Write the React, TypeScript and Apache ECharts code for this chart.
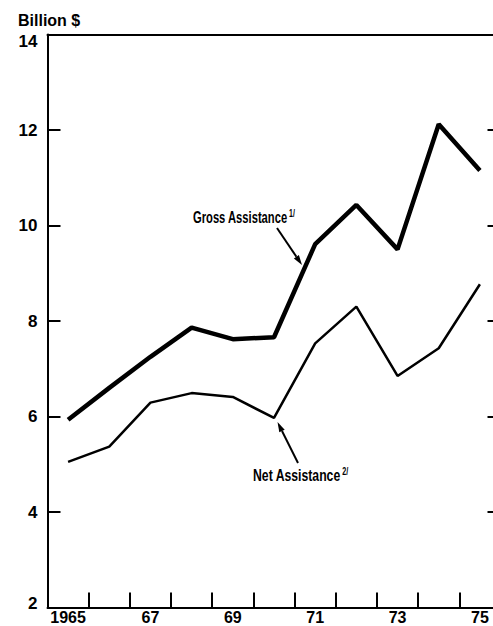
import React, { useEffect, useRef } from "react";
import * as echarts from "echarts";

const years = ["1965", "1966", "1967", "1968", "1969", "1970", "1971", "1972", "1973", "1974", "1975"];
const grossAssistance = [5.93, 6.6, 7.25, 7.86, 7.62, 7.66, 9.61, 10.43, 9.5, 12.12, 11.15];
const netAssistance = [5.05, 5.37, 6.29, 6.49, 6.41, 5.97, 7.53, 8.3, 6.85, 7.43, 8.77];
const yMin = 2;
const yMax = 14;
const yStep = 2;
const unitLabel = "Billion $";
const grossLabel = "Gross Assistance";
const netLabel = "Net Assistance";

const FONT = '"Liberation Sans", Arial, sans-serif';

export default function App() {
  const ref = useRef<HTMLDivElement>(null);
  useEffect(() => {
    if (!ref.current) return;
    const chart = echarts.init(ref.current, undefined, { renderer: "svg" });
    const axisLine = { show: true, lineStyle: { color: "#000", width: 2 } };
    chart.setOption({
      animation: false,
      backgroundColor: "#fff",
      grid: { left: 47.5, top: 34.5, width: 453, height: 573, outerBoundsMode: "none", containLabel: false },
      xAxis: [
        {
          type: "category",
          data: years,
          boundaryGap: true,
          position: "bottom",
          axisLine,
          axisTick: { show: true, inside: true, length: 15, interval: 0, lineStyle: { color: "#000", width: 2 } },
          axisLabel: {
            interval: 1,
            margin: 2,
            color: "#000",
            fontFamily: FONT,
            fontWeight: "bold",
            fontSize: 16,
            lineHeight: 16,
            formatter: (v: string) => (v === "1965" ? v : v.slice(2)),
          },
          splitLine: { show: false },
        },
        {
          type: "category",
          data: years,
          position: "top",
          axisLine,
          axisTick: { show: false },
          axisLabel: { show: false },
          splitLine: { show: false },
        },
      ],
      yAxis: [
        {
          type: "value",
          min: yMin,
          max: yMax,
          interval: yStep,
          position: "left",
          axisLine,
          axisTick: { show: true, inside: true, length: 13, lineStyle: { color: "#000", width: 2 } },
          axisLabel: {
            margin: 10,
            color: "#000",
            fontFamily: FONT,
            fontWeight: "bold",
            fontSize: 17,
            formatter: (v: number) => (v === yMax ? "{top|" + v + "}" : v === yMin ? "{bot|" + v + "}" : String(v)),
            rich: {
              top: { padding: [14, 0, 0, 0], color: "#000", fontFamily: FONT, fontWeight: "bold", fontSize: 17 },
              bot: { padding: [0, 0, 8, 0], color: "#000", fontFamily: FONT, fontWeight: "bold", fontSize: 17 },
            },
          },
          splitLine: { show: false },
        },
        {
          type: "value",
          min: yMin,
          max: yMax,
          interval: yStep,
          position: "right",
          axisLine,
          axisTick: { show: true, inside: true, length: 13, lineStyle: { color: "#000", width: 2 } },
          axisLabel: { show: false },
          splitLine: { show: false },
        },
      ],
      series: [
        {
          name: grossLabel,
          type: "line",
          data: grossAssistance,
          symbol: "none",
          lineStyle: { color: "#000", width: 4.5 },
          xAxisIndex: 0,
          yAxisIndex: 0,
        },
        {
          name: netLabel,
          type: "line",
          data: netAssistance,
          symbol: "none",
          lineStyle: { color: "#000", width: 2.5 },
          xAxisIndex: 0,
          yAxisIndex: 0,
        },
      ],
      graphic: [
        {
          type: "text",
          left: 18,
          top: 12,
          style: { text: unitLabel, fill: "#000", font: "bold 16px " + FONT },
        },
        {
          type: "text",
          x: 193,
          y: 217,
          scaleX: 0.7,
          style: {
            text: grossLabel + "{sup|1/}",
            fill: "#000",
            fontFamily: FONT,
            fontSize: 16,
            fontWeight: "bold",
            verticalAlign: "middle",
            rich: { sup: { fontSize: 10, fontFamily: FONT, fontWeight: "bold", padding: [0, 0, 7, 2], fill: "#000" } },
          },
        },
        { type: "line", shape: { x1: 277, y1: 228, x2: 296.4, y2: 256.7 }, style: { stroke: "#000", lineWidth: 2 } },
        { type: "polygon", shape: { points: [[302, 265], [293.9, 258.4], [298.9, 255]] }, style: { fill: "#000" } },
        {
          type: "text",
          x: 253,
          y: 475,
          scaleX: 0.72,
          style: {
            text: netLabel + "{sup|2/}",
            fill: "#000",
            fontFamily: FONT,
            fontSize: 17,
            fontWeight: "bold",
            verticalAlign: "middle",
            rich: { sup: { fontSize: 10, fontFamily: FONT, fontWeight: "bold", padding: [0, 0, 7, 2], fill: "#000" } },
          },
        },
        { type: "line", shape: { x1: 298, y1: 463, x2: 282, y2: 431 }, style: { stroke: "#000", lineWidth: 2 } },
        { type: "polygon", shape: { points: [[277.5, 422], [284.7, 429.7], [279.3, 432.3]] }, style: { fill: "#000" } },
      ],
    });
    return () => chart.dispose();
  }, []);
  return <div ref={ref} style={{ position: "absolute", left: 0, top: 0, width: 493, height: 626, background: "#fff" }} />;
}
